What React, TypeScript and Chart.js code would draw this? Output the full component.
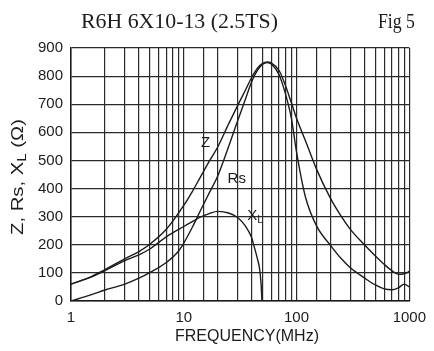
import React, { useEffect, useRef } from 'react';
import { Chart, registerables } from 'chart.js';

Chart.register(...registerables);

// ---- data ----
const zFreq = [1, 1.5, 2, 3, 4, 5, 7, 10, 12, 14, 17, 20, 25, 30, 35, 40, 45, 50, 55, 60, 70, 80, 90, 100, 120, 150, 200, 250, 300, 400, 500, 600, 700, 800, 900, 1000];
const zValues = [60, 86, 112, 150, 176, 202, 255, 340, 392, 440, 500, 548, 630, 695, 748, 795, 828, 845, 850, 846, 820, 765, 705, 650, 570, 470, 365, 300, 255, 200, 160, 130, 108, 95, 97, 105];

const rsFreq = [1, 1.5, 2, 3, 4, 5, 7, 9, 10, 12, 14, 17, 20, 25, 30, 35, 40, 45, 50, 55, 60, 70, 80, 90, 100, 120, 150, 200, 250, 300, 400, 500, 600, 700, 800, 900, 1000];
const rsValues = [0, 22, 39, 60, 81, 101, 137, 178, 206, 265, 320, 388, 445, 550, 640, 715, 780, 820, 842, 848, 842, 805, 735, 650, 530, 370, 268, 198, 150, 118, 82, 57, 43, 40, 47, 60, 50];

const xlFreq = [1, 1.5, 2, 3, 4, 5, 7, 10, 12, 14, 17, 20, 25, 30, 35, 40, 42, 45, 47, 48.5, 49.3];
const xlValues = [60, 85, 108, 144, 164, 185, 228, 265, 283, 298, 312, 319, 313, 297, 268, 225, 195, 150, 115, 60, 0];

const xTickLabels = [1, 10, 100, 1000];
const yMin = 0;
const yMax = 900;
const yStep = 100;

const titleText = 'R6H 6X10-13 (2.5TS)';
const figText = 'Fig 5';
const xAxisTitle = 'FREQUENCY(MHz)';
const yAxisTitleMain = 'Z, Rs, X';
const yAxisTitleSub = 'L';
const yAxisTitleEnd = ' (\u03A9)';

const curveLabels = [
  { text: 'Z', sub: '', f: 15.6, v: 562 },
  { text: 'Rs', sub: '', f: 29.5, v: 436 },
  { text: 'X', sub: 'L', f: 43, v: 304 },
];

const SANS = '"Liberation Sans", Arial, sans-serif';
const SERIF = '"Liberation Serif", "Times New Roman", serif';
const INK = '#1c1c1c';

const toPoints = (xs: number[], ys: number[]) => xs.map((x, i) => ({ x, y: ys[i] }));

const textPlugin = {
  id: 'texts',
  afterDraw(chart: any) {
    const ctx = chart.ctx as CanvasRenderingContext2D;
    const xs = chart.scales.x;
    const ys = chart.scales.y;
    ctx.save();
    ctx.fillStyle = INK;
    // title
    ctx.font = `22px ${SERIF}`;
    ctx.textAlign = 'left';
    ctx.textBaseline = 'alphabetic';
    ctx.fillText(titleText, 81, 28, 197);
    ctx.textAlign = 'right';
    ctx.fillText(figText, 415, 28, 37);

    // x axis title
    ctx.font = `16px ${SANS}`;
    ctx.textAlign = 'center';
    ctx.textBaseline = 'middle';
    ctx.fillText(xAxisTitle, 247, 337, 152);

    // y axis title (rotated, with subscript)
    const mainFont = `16px ${SANS}`;
    const subFont = `12px ${SANS}`;
    ctx.font = mainFont;
    const w1 = ctx.measureText(yAxisTitleMain).width;
    const w3 = ctx.measureText(yAxisTitleEnd).width;
    ctx.font = subFont;
    const w2 = ctx.measureText(yAxisTitleSub).width;
    const total = w1 + w2 + w3;
    const target = 116;
    const sc = target / total;
    ctx.translate(19, 177);
    ctx.rotate(-Math.PI / 2);
    ctx.scale(sc, 1);
    ctx.textAlign = 'left';
    ctx.textBaseline = 'middle';
    let cx = -total / 2;
    ctx.font = mainFont;
    ctx.fillText(yAxisTitleMain, cx, 0);
    cx += w1;
    ctx.font = subFont;
    ctx.fillText(yAxisTitleSub, cx, 4);
    cx += w2;
    ctx.font = mainFont;
    ctx.fillText(yAxisTitleEnd, cx, 0);
    ctx.setTransform(1, 0, 0, 1, 0, 0);

    // curve labels
    for (const l of curveLabels) {
      const px = xs.getPixelForValue(l.f);
      const py = ys.getPixelForValue(l.v);
      ctx.font = `15px ${SANS}`;
      ctx.textBaseline = 'middle';
      const tw = ctx.measureText(l.text).width;
      let sw = 0;
      if (l.sub) {
        ctx.font = `11px ${SANS}`;
        sw = ctx.measureText(l.sub).width;
      }
      const start = px - (tw + sw) / 2;
      ctx.font = `15px ${SANS}`;
      ctx.textAlign = 'left';
      ctx.fillStyle = INK;
      ctx.fillText(l.text, start, py);
      if (l.sub) {
        ctx.font = `11px ${SANS}`;
        ctx.fillText(l.sub, start + tw, py + 4);
      }
    }
    ctx.restore();
  },
};

export default function App() {
  const ref = useRef<HTMLCanvasElement | null>(null);

  useEffect(() => {
    if (!ref.current) return;
    const lineStyle = {
      borderColor: INK,
      borderWidth: 1.4,
      pointRadius: 0,
      fill: false,
      cubicInterpolationMode: 'monotone' as const,
    };
    const chart = new Chart(ref.current, {
      type: 'line',
      data: {
        datasets: [
          { label: 'Z', data: toPoints(zFreq, zValues), ...lineStyle },
          { label: 'Rs', data: toPoints(rsFreq, rsValues), ...lineStyle },
          { label: 'XL', data: toPoints(xlFreq, xlValues), ...lineStyle },
        ],
      },
      options: {
        animation: false,
        responsive: false,
        maintainAspectRatio: false,
        devicePixelRatio: 1,
        layout: { padding: { top: 48, right: 21, left: 0, bottom: 0 } },
        plugins: {
          legend: { display: false },
          title: { display: false },
          tooltip: { enabled: false },
        },
        scales: {
          x: {
            type: 'logarithmic',
            min: xTickLabels[0],
            max: xTickLabels[xTickLabels.length - 1],
            afterFit: (s: any) => {
              s.height = 50;
            },
            grid: { color: '#2a2a2a', lineWidth: 1.2, drawTicks: false },
            border: { color: '#1a1a1a', width: 1.5 },
            ticks: {
              autoSkip: false,
              maxRotation: 0,
              padding: 8,
              color: INK,
              font: { family: SANS, size: 15 },
              callback: (v: any) => (xTickLabels.includes(Number(v)) ? String(v) : ''),
            },
          },
          y: {
            type: 'linear',
            min: yMin,
            max: yMax,
            afterFit: (s: any) => {
              s.width = 71;
            },
            grid: { color: '#2a2a2a', lineWidth: 1.2, drawTicks: false },
            border: { color: '#1a1a1a', width: 1.5 },
            ticks: {
              stepSize: yStep,
              padding: 8,
              color: INK,
              font: { family: SANS, size: 15 },
            },
          },
        },
      },
      plugins: [textPlugin],
    });
    return () => chart.destroy();
  }, []);

  return (
    <div style={{ position: 'fixed', left: 0, top: 0, width: 434, height: 351, background: '#fff' }}>
      <canvas ref={ref} width={434} height={351} style={{ width: 434, height: 351, display: 'block' }} />
    </div>
  );
}
